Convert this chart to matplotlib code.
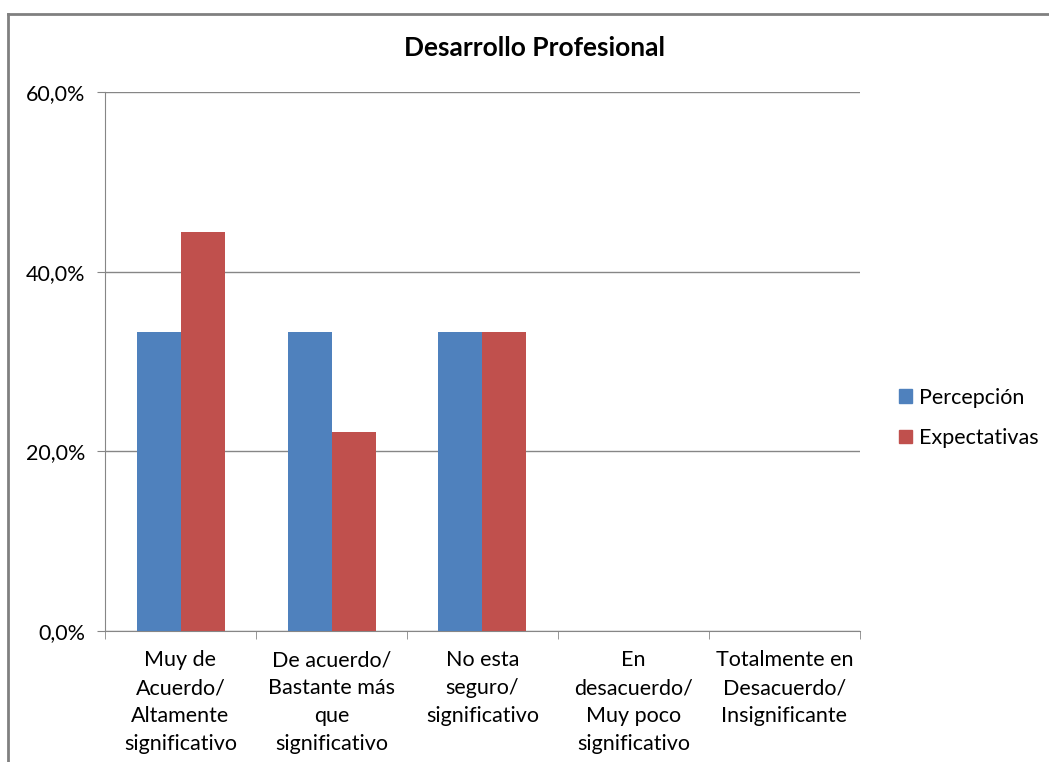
import matplotlib.pyplot as plt
from matplotlib.lines import Line2D
from matplotlib.patches import Patch
import numpy as np

plt.rcParams["font.family"] = ["Lato", "DejaVu Sans"]

categorias = ["Muy de\nAcuerdo/\nAltamente\nsignificativo",
              "De acuerdo/\nBastante más\nque\nsignificativo",
              "No esta\nseguro/\nsignificativo",
              "En\ndesacuerdo/\nMuy poco\nsignificativo",
              "Totalmente en\nDesacuerdo/\nInsignificante"]
percepcion = [33.3, 33.3, 33.3, 0, 0]
expectativas = [44.4, 22.2, 33.3, 0, 0]

W, H = 1049, 762
fig = plt.figure(figsize=(W / 100, H / 100), dpi=100)
ax = fig.add_axes([105 / W, (H - 631) / H, (860 - 105) / W, (631 - 92) / H])

x = np.arange(len(categorias))
w = 44 / 151
ax.bar(x - w / 2, percepcion, w, color="#4F81BD", label="Percepción", zorder=3)
ax.bar(x + w / 2, expectativas, w, color="#C0504D", label="Expectativas", zorder=3)

ax.set_xlim(-0.5, len(categorias) - 0.5)
ax.set_ylim(0, 60)
ax.set_yticks([0, 20, 40, 60])
ax.set_yticklabels(["0,0%", "20,0%", "40,0%", "60,0%"], fontsize=15.5)
ax.set_xticks(x)
ax.set_xticklabels(categorias, fontsize=15.5, linespacing=1.5)
ax.set_xticks(np.arange(-0.5, len(categorias)), minor=True)
ax.tick_params(axis="x", which="major", length=0, pad=14)
ax.tick_params(axis="x", which="minor", length=6, color="#868686", direction="out")
ax.tick_params(axis="y", length=6, color="#868686", pad=8)
ax.yaxis.grid(True, color="#868686", linewidth=1, zorder=0)

for s in ["top", "right"]:
    ax.spines[s].set_visible(False)
for s in ["left", "bottom"]:
    ax.spines[s].set_color("#868686")

fig.text(534 / W, 1 - 48 / H, "Desarrollo Profesional", ha="center", va="center",
         fontsize=19, fontweight="bold")

handles = [Patch(color="#4F81BD"), Patch(color="#C0504D")]
fig.legend(handles, ["Percepción", "Expectativas"], loc="center left",
           bbox_to_anchor=(899 / W, 1 - 418 / H), frameon=False, fontsize=15.5,
           borderpad=0, borderaxespad=0,
           handlelength=0.6, handleheight=0.6, handletextpad=0.35, labelspacing=0.95)

# chart border
fig.add_artist(Line2D([8 / W, 8 / W], [0, 1 - 14 / H], color="#808080", linewidth=2))
fig.add_artist(Line2D([8 / W, 1], [1 - 14 / H, 1 - 14 / H], color="#808080", linewidth=2))

fig.savefig("out.png", dpi=100)
